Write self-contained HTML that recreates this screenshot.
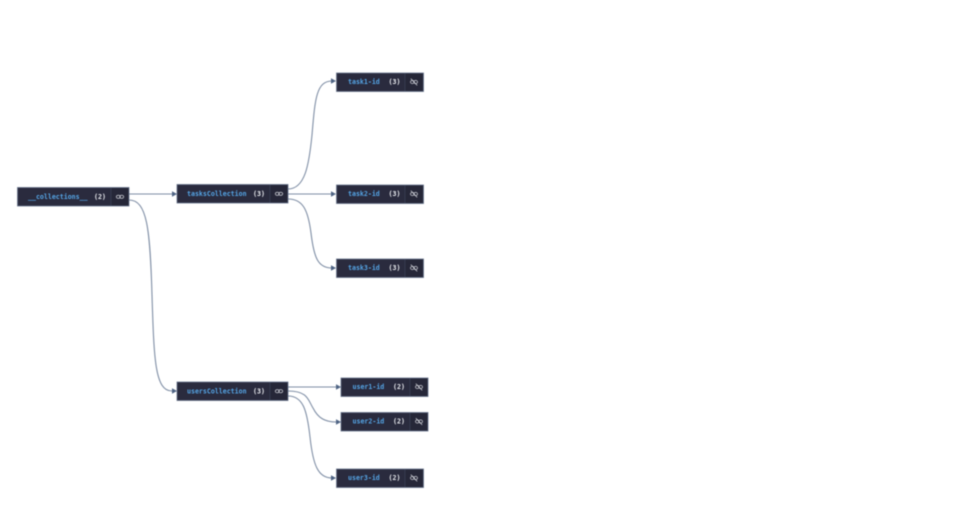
<!DOCTYPE html>
<html>
<head>
<meta charset="utf-8">
<style>
html,body{margin:0;padding:0;background:#fff;width:973px;height:531px;overflow:hidden}
svg{display:block;filter:blur(.4px)}
text{font-family:"DejaVu Sans Mono","Liberation Mono",monospace;font-size:6.6px;font-weight:bold}
.k{fill:#55a5e6}
.c{fill:#eceef2}
.n{fill:#2a2b3e;stroke:#65728a;stroke-width:.8}
.r{fill:#262738}
.d{stroke:#3a3e55;stroke-width:.8}
.e{fill:none;stroke:#7f8ea5;stroke-width:1.1}
.a{fill:#4f6484}
.i{fill:none;stroke:#cfd1d8;stroke-width:.75}
</style>
</head>
<body>
<svg width="973" height="531" viewBox="0 0 973 531" xmlns="http://www.w3.org/2000/svg">
<defs>
<g id="link">
<ellipse cx="-1.7" cy="0" rx="2" ry="1.6" class="i"/>
<ellipse cx="1.7" cy="0" rx="2" ry="1.6" class="i"/>
</g>
<g id="unlink">
<ellipse cx="-1.7" cy="0" rx="1.8" ry="1.6" class="i"/>
<ellipse cx="1.7" cy="0" rx="1.8" ry="1.6" class="i"/>
<path d="M-3.2-3.4L3.2 3.4" class="i"/>
</g>
</defs>

<g class="e">
<path d="M129 194H172"/>
<path d="M129 200C147 200 150 228 152 295C154 360 155 391 172 391"/>
<path d="M288 189C305 189 309 165 312 135C315 100 316 81 332 81"/>
<path d="M288 194H332"/>
<path d="M288 199C303 199 308 210 311 233C314 258 318 268 332 268"/>
<path d="M288 387H336"/>
<path d="M288 391C308 391 308 400 313 408C318 418 325 422 336 422"/>
<path d="M288 396C303 396 307 410 310 437C313 465 318 478 332 478"/>
</g>
<g class="a">
<path d="M172 191.2L177 194L172 196.8Z"/>
<path d="M172 388.2L177 391L172 393.8Z"/>
<path d="M331 78.2L336 81L331 83.8Z"/>
<path d="M331 191.2L336 194L331 196.8Z"/>
<path d="M331 265.2L336 268L331 270.8Z"/>
<path d="M336 384.2L341 387L336 389.8Z"/>
<path d="M336 419.2L341 422L336 424.8Z"/>
<path d="M331 475.2L336 478L331 480.8Z"/>
</g>

<!-- collections -->
<rect class="n" x="17.5" y="187.5" width="111.5" height="18.5"/>
<rect class="r" x="111" y="188" width="17.5" height="17.5"/>
<path class="d" d="M111 188V205.5"/>
<text class="k" x="28" y="199">__collections__</text>
<text class="c" x="94" y="199">(2)</text>
<use href="#link" x="120" y="196.8"/>

<!-- tasksCollection -->
<rect class="n" x="177" y="184.5" width="111" height="18.5"/>
<rect class="r" x="270" y="185" width="17.5" height="17.5"/>
<path class="d" d="M270 185V202.5"/>
<text class="k" x="187" y="196">tasksCollection</text>
<text class="c" x="253" y="196">(3)</text>
<use href="#link" x="279" y="193.8"/>

<!-- usersCollection -->
<rect class="n" x="177" y="382" width="111" height="18.5"/>
<rect class="r" x="270" y="382.5" width="17.5" height="17.5"/>
<path class="d" d="M270 382.5V400"/>
<text class="k" x="187" y="393.5">usersCollection</text>
<text class="c" x="253" y="393.5">(3)</text>
<use href="#link" x="279" y="391.2"/>

<!-- task1 -->
<rect class="n" x="336.5" y="73" width="87" height="18.5"/>
<rect class="r" x="405" y="73.5" width="18" height="17.5"/>
<path class="d" d="M405 73.5V91"/>
<text class="k" x="348" y="84">task1-id</text>
<text class="c" x="388.5" y="84">(3)</text>
<use href="#unlink" x="414" y="82"/>

<!-- task2 -->
<rect class="n" x="336.5" y="185" width="87" height="18.5"/>
<rect class="r" x="405" y="185.5" width="18" height="17.5"/>
<path class="d" d="M405 185.5V203"/>
<text class="k" x="348" y="196">task2-id</text>
<text class="c" x="388.5" y="196">(3)</text>
<use href="#unlink" x="414" y="194"/>

<!-- task3 -->
<rect class="n" x="336.5" y="259" width="87" height="18.5"/>
<rect class="r" x="405" y="259.5" width="18" height="17.5"/>
<path class="d" d="M405 259.5V277"/>
<text class="k" x="348" y="270">task3-id</text>
<text class="c" x="388.5" y="270">(3)</text>
<use href="#unlink" x="414" y="268"/>

<!-- user1 -->
<rect class="n" x="341" y="378" width="87" height="18.5"/>
<rect class="r" x="410" y="378.5" width="17.5" height="17.5"/>
<path class="d" d="M410 378.5V396"/>
<text class="k" x="352.5" y="389">user1-id</text>
<text class="c" x="393" y="389">(2)</text>
<use href="#unlink" x="419" y="387"/>

<!-- user2 -->
<rect class="n" x="341" y="412.5" width="87" height="18.5"/>
<rect class="r" x="410" y="413" width="17.5" height="17.5"/>
<path class="d" d="M410 413V430.5"/>
<text class="k" x="352.5" y="423.5">user2-id</text>
<text class="c" x="393" y="423.5">(2)</text>
<use href="#unlink" x="419" y="421.5"/>

<!-- user3 -->
<rect class="n" x="336.5" y="469" width="87" height="18.5"/>
<rect class="r" x="405" y="469.5" width="18" height="17.5"/>
<path class="d" d="M405 469.5V487"/>
<text class="k" x="348" y="480">user3-id</text>
<text class="c" x="388.5" y="480">(2)</text>
<use href="#unlink" x="414" y="478"/>
</svg>
</body>
</html>
